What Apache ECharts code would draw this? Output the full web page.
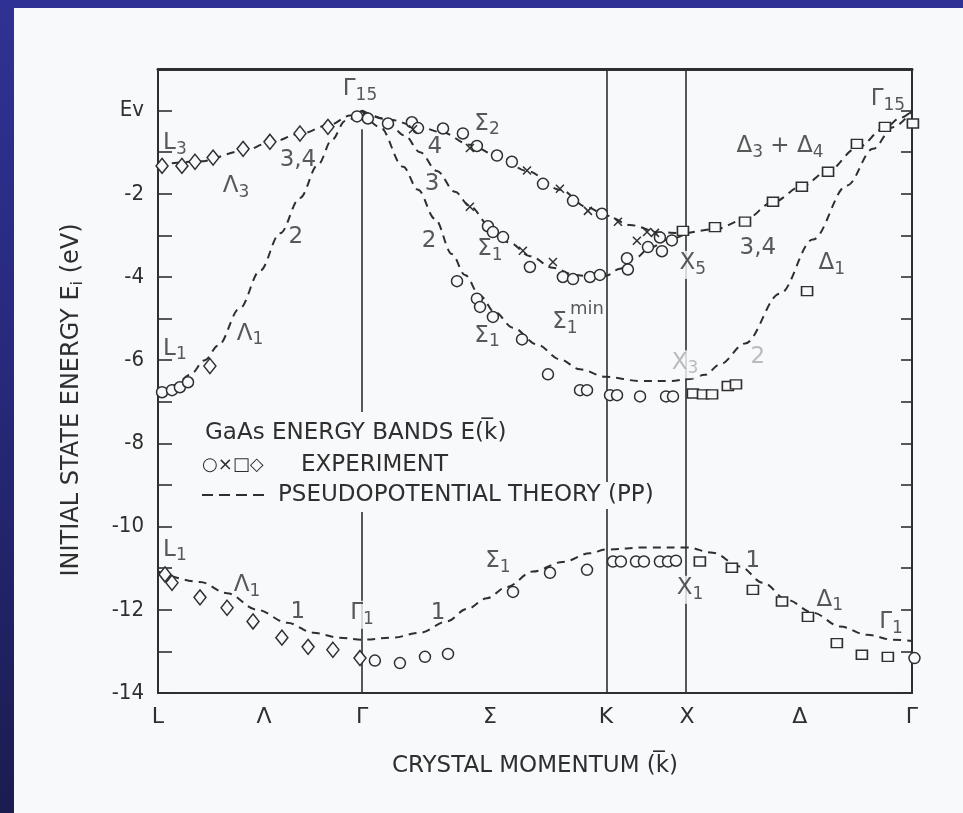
<!DOCTYPE html>
<html>
<head>
<meta charset="utf-8">
<script src="https://cdn.jsdelivr.net/npm/echarts@6/dist/echarts.min.js"></script>
<style>
  html, body { margin: 0; padding: 0; width: 963px; height: 813px; overflow: hidden;
    background: linear-gradient(180deg, #2f3293 0%, #27297c 45%, #1b1c50 100%); }
  #paper { position: absolute; left: 14px; top: 8px; right: 0; bottom: 0; background: #f8f9fa; }
  #chart { position: absolute; left: 0; top: 0; width: 963px; height: 813px; }
</style>
</head>
<body>
<div id="paper"></div>
<div id="chart"></div>
<script>
// ---- symmetry points along the k path (L - Gamma - K - X - Gamma) ----
const kTicks      = [0, 0.47, 0.904, 1.471, 1.985, 2.344, 2.844, 3.341];
const kTickLabels = ['L', 'Λ', 'Γ', 'Σ', 'K', 'X', 'Δ', 'Γ'];
const kGamma = 0.904, kK = 1.985, kX = 2.344, kEnd = 3.341;

// ---- pseudopotential theory bands, [k, E (eV)] ----
const ppLambda3 = [[0,-1.3],[0.186,-1.22],[0.377,-0.97],[0.496,-0.77],[0.629,-0.56],[0.762,-0.34],[0.851,-0.12],[0.904,0]];
const ppLambda1 = [[0,-6.75],[0.075,-6.6],[0.142,-6.35],[0.208,-6.0],[0.266,-5.65],[0.363,-4.75],[0.452,-3.85],
                   [0.541,-2.95],[0.629,-2.1],[0.709,-1.3],[0.771,-0.7],[0.829,-0.25],[0.904,0]];
const ppBand2 = [[0.904,0],[0.984,-0.4],[1.086,-1.35],[1.152,-1.9],[1.227,-2.6],[1.303,-3.45],[1.360,-3.95],
                 [1.427,-4.45],[1.493,-4.85],[1.573,-5.22],[1.679,-5.62],[1.781,-5.98],[1.870,-6.22],[1.985,-6.4],
                 [2.136,-6.5],[2.269,-6.5],[2.357,-6.45],[2.424,-6.35],[2.490,-6.1],[2.601,-5.6],[2.756,-4.4],
                 [2.902,-3.1],[3.053,-1.8],[3.168,-0.92],[3.257,-0.4],[3.341,0]];
const ppBand3 = [[0.904,0],[1.006,-0.2],[1.094,-0.6],[1.161,-1.0],[1.236,-1.45],[1.316,-1.95],[1.382,-2.3],
                 [1.471,-2.78],[1.560,-3.18],[1.648,-3.5],[1.750,-3.78],[1.848,-3.95],[1.936,-4.0],[1.985,-3.97],
                 [2.047,-3.8],[2.113,-3.55],[2.180,-3.3],[2.260,-3.1],[2.344,-2.95]];
const ppBand4 = [[0.904,0],[1.028,-0.22],[1.139,-0.36],[1.258,-0.52],[1.382,-0.82],[1.502,-1.08],[1.635,-1.45],
                 [1.781,-1.9],[1.905,-2.33],[1.985,-2.52],[2.091,-2.75],[2.224,-2.93],[2.344,-2.95]];
const ppDelta34 = [[2.344,-2.95],[2.468,-2.85],[2.601,-2.62],[2.725,-2.2],[2.853,-1.82],[2.969,-1.45],
                   [3.097,-0.9],[3.221,-0.42],[3.288,-0.18],[3.341,0]];
const ppBand1 = [[0,-11.08],[0.186,-11.33],[0.306,-11.6],[0.439,-12.0],[0.572,-12.31],[0.687,-12.55],[0.806,-12.67],
                 [0.904,-12.72],[1.041,-12.67],[1.161,-12.55],[1.280,-12.28],[1.369,-11.98],[1.458,-11.72],
                 [1.546,-11.45],[1.661,-11.08],[1.794,-10.85],[1.914,-10.64],[1.985,-10.55],[2.167,-10.5],
                 [2.344,-10.5],[2.459,-10.63],[2.579,-10.96],[2.681,-11.35],[2.787,-11.76],[2.902,-12.07],
                 [3.022,-12.4],[3.141,-12.6],[3.257,-12.72],[3.341,-12.75]];

// ---- photoemission experiment, [k, E (eV)] ----
const expCircles = [
  [0.018,-6.77],[0.062,-6.72],[0.097,-6.65],[0.133,-6.53],
  [0.882,-0.14],[0.930,-0.19],[1.019,-0.31],[1.125,-0.28],[1.152,-0.42],[1.263,-0.43],[1.351,-0.55],
  [1.413,-0.85],[1.502,-1.08],[1.568,-1.23],[1.706,-1.76],[1.839,-2.17],[1.967,-2.48],[2.224,-3.05],[2.277,-3.12],
  [1.462,-2.78],[1.484,-2.92],[1.529,-3.04],[1.648,-3.76],[1.794,-4.0],[1.839,-4.05],[1.914,-4.0],[1.958,-3.95],
  [2.078,-3.55],[2.082,-3.82],[2.171,-3.28],[2.233,-3.38],
  [1.325,-4.1],[1.413,-4.52],[1.427,-4.72],[1.484,-4.96],[1.613,-5.5],[1.728,-6.34],
  [1.870,-6.72],[1.901,-6.72],[2.003,-6.84],[2.034,-6.84],[2.136,-6.87],[2.251,-6.87],[2.282,-6.87],
  [0.961,-13.22],[1.072,-13.28],[1.183,-13.13],[1.285,-13.06],
  [1.573,-11.57],[1.737,-11.11],[1.901,-11.04],[2.016,-10.84],[2.051,-10.84],[2.118,-10.84],[2.153,-10.84],
  [2.224,-10.84],[2.260,-10.84],[2.295,-10.82],[3.352,-13.16]
];
const expCrosses = [
  [1.130,-0.45],[1.382,-0.9],[1.635,-1.44],[1.781,-1.88],[1.905,-2.41],[2.038,-2.67],[2.167,-2.92],[2.202,-2.94],
  [1.382,-2.31],[1.617,-3.37],[1.750,-3.64],[2.122,-3.13]
];
const expSquares = [
  [2.326,-2.89],[2.468,-2.8],[2.601,-2.67],[2.725,-2.19],[2.853,-1.83],[2.969,-1.47],[3.097,-0.8],[3.221,-0.39],[3.345,-0.31],
  [2.876,-4.34],
  [2.370,-6.8],[2.415,-6.82],[2.455,-6.82],[2.525,-6.62],[2.561,-6.58],
  [2.401,-10.84],[2.543,-10.99],[2.636,-11.52],[2.765,-11.8],[2.880,-12.17],[3.008,-12.8],[3.119,-13.08],[3.234,-13.13]
];
const expDiamonds = [
  [0.018,-1.33],[0.106,-1.33],[0.164,-1.23],[0.244,-1.13],[0.377,-0.92],[0.496,-0.75],[0.629,-0.55],[0.753,-0.39],
  [0.230,-6.14],
  [0.031,-11.15],[0.062,-11.35],[0.186,-11.7],[0.306,-11.95],[0.421,-12.28],[0.549,-12.67],[0.665,-12.89],
  [0.775,-12.96],[0.895,-13.16]
];

// ---- drawing ----
const INK = '#2f2f2f';
const PAPER = '#f8f9fa';
const GREY = '#a9abae';
const FONT = 'DejaVu Sans';
const FONT_C = 'DejaVu Sans Condensed';

const richStyles = {
  m: { fontFamily: FONT, fontSize: 23, color: INK, lineHeight: 26, verticalAlign: 'top' },
  s: { fontFamily: FONT, fontSize: 17, color: INK, lineHeight: 17, padding: [12, 0, 0, 0], verticalAlign: 'bottom' },
  p: { fontFamily: FONT, fontSize: 18, color: INK, lineHeight: 20 },
  gm: { fontFamily: FONT, fontSize: 23, color: GREY, lineHeight: 26, verticalAlign: 'top' },
  gs: { fontFamily: FONT, fontSize: 17, color: GREY, lineHeight: 17, padding: [12, 0, 0, 0], verticalAlign: 'bottom' }
};

// band-symmetry annotations: [k, E, rich text, masks the line behind it]
const notes = [
  [0.895, 0.48, '{m|Γ}{s|15}', true],
  [0.075, -0.82, '{m|L}{s|3}', false],
  [0.346, -1.86, '{m|Λ}{s|3}', false],
  [0.620, -1.23, '{m|3,4}', false],
  [0.611, -3.08, '{m|2}', false],
  [0.408, -5.40, '{m|Λ}{s|1}', false],
  [0.075, -5.76, '{m|L}{s|1}', false],
  [1.227, -0.92, '{m|4}', false],
  [1.214, -1.81, '{m|3}', false],
  [1.201, -3.16, '{m|2}', false],
  [1.458, -0.36, '{m|Σ}{s|2}', false],
  [1.471, -3.37, '{m|Σ}{s|1}', false],
  [1.458, -5.45, '{m|Σ}{s|1}', false],
  [1.803, -5.13, '{m|Σ}{s|1}', false],
  [1.901, -4.77, '{p|min}', true],
  [2.370, -3.71, '{m|X}{s|5}', true],
  [2.658, -3.35, '{m|3,4}', false],
  [2.756, -0.89, '{m|Δ}{s|3}{m| + Δ}{s|4}', false],
  [3.234, 0.24, '{m|Γ}{s|15}', false],
  [2.986, -3.71, '{m|Δ}{s|1}', false],
  [2.335, -6.10, '{gm|X}{gs|3}', true],
  [2.658, -5.95, '{gm|2}', false],
  [0.075, -10.6, '{m|L}{s|1}', false],
  [0.394, -11.45, '{m|Λ}{s|1}', false],
  [0.620, -12.1, '{m|1}', false],
  [0.904, -12.12, '{m|Γ}{s|1}', true],
  [1.241, -12.12, '{m|1}', false],
  [1.506, -10.87, '{m|Σ}{s|1}', false],
  [2.357, -11.52, '{m|X}{s|1}', true],
  [2.636, -10.87, '{m|1}', false],
  [2.977, -11.8, '{m|Δ}{s|1}', false],
  [3.248, -12.34, '{m|Γ}{s|1}', false]
];

function theoryLine(name, data) {
  return {
    name, type: 'line', data, smooth: 0.35, smoothMonotone: 'x', symbol: 'none', z: 3,
    lineStyle: { color: INK, width: 2, type: [8, 6] }, silent: true
  };
}
function expScatter(name, data, symbol, size) {
  return {
    name, type: 'scatter', data, symbol, symbolSize: size, z: 5, clip: false,
    itemStyle: { color: PAPER, borderColor: INK, borderWidth: 1.5, opacity: 1 }
  };
}

const chart = echarts.init(document.getElementById('chart'), null, { renderer: 'canvas' });

const option = {
  animation: false,
  backgroundColor: 'transparent',
  grid: { left: 158, right: 51, top: 69, bottom: 120, containLabel: false, outerBoundsMode: 'none' },
  xAxis: [
    {
      type: 'value', min: 0, max: kEnd, position: 'bottom',
      axisLine: { show: true, onZero: false, lineStyle: { color: INK, width: 2 } },
      axisTick: { show: false }, splitLine: { show: false },
      axisLabel: {
        customValues: kTicks, showMinLabel: true, showMaxLabel: true, margin: 13,
        fontFamily: FONT, fontSize: 22, color: INK,
        formatter: v => { const i = kTicks.findIndex(t => Math.abs(t - v) < 1e-6); return i >= 0 ? kTickLabels[i] : ''; }
      },
      name: 'CRYSTAL MOMENTUM (k\u0305)', nameLocation: 'middle', nameGap: 62,
      nameTextStyle: { fontFamily: FONT, fontSize: 23, color: INK }
    },
    {
      type: 'value', min: 0, max: kEnd, position: 'top',
      axisLine: { show: true, onZero: false, lineStyle: { color: INK, width: 3 } },
      axisTick: { show: false }, axisLabel: { show: false }, splitLine: { show: false }
    }
  ],
  yAxis: [
    {
      type: 'value', min: -14, max: 1, interval: 1, position: 'left',
      axisLine: { show: true, onZero: false, lineStyle: { color: INK, width: 2 } },
      axisTick: { show: true, inside: true, length: 14, lineStyle: { color: INK, width: 1.6 } },
      splitLine: { show: false },
      axisLabel: {
        margin: 14, fontFamily: FONT_C, fontSize: 22, color: INK,
        formatter: v => v === 0 ? 'Ev' : (v < 0 && v % 2 === 0 ? String(v) : '')
      }
    },
    {
      type: 'value', min: -14, max: 1, interval: 1, position: 'right',
      axisLine: { show: true, onZero: false, lineStyle: { color: INK, width: 2 } },
      axisTick: { show: true, inside: true, length: 11, lineStyle: { color: INK, width: 1.6 } },
      axisLabel: { show: false }, splitLine: { show: false }
    }
  ],
  series: [
    {
      name: 'symmetry lines', type: 'line', data: [], z: 1,
      markLine: {
        silent: true, symbol: 'none', animation: false,
        label: { show: false },
        lineStyle: { color: INK, width: 1.6, type: 'solid' },
        data: [
          [{ coord: [kGamma, -0.45] }, { coord: [kGamma, -14] }],
          { xAxis: kK },
          { xAxis: kX }
        ]
      }
    },
    theoryLine('Λ3', ppLambda3),
    theoryLine('Λ1', ppLambda1),
    theoryLine('band 2', ppBand2),
    theoryLine('band 3', ppBand3),
    theoryLine('band 4', ppBand4),
    theoryLine('Δ3+Δ4', ppDelta34),
    theoryLine('band 1', ppBand1),
    expScatter('circles', expCircles, 'circle', 11),
    expScatter('crosses', expCrosses, 'path://M0 0L10 10M10 0L0 10', 8),
    expScatter('squares', expSquares, 'rect', [11, 9]),
    expScatter('diamonds', expDiamonds, 'diamond', [12, 15]),
    {
      name: 'labels', type: 'scatter', symbolSize: 0, z: 6, clip: false, silent: true,
      data: notes.map(n => ({
        value: [n[0], n[1]],
        label: {
          show: true, position: 'inside', formatter: n[2], rich: richStyles,
          backgroundColor: n[3] ? PAPER : 'transparent', padding: n[3] ? [1, 2] : 0
        }
      }))
    }
  ],
  graphic: [
    { type: 'text', x: 72, y: 400, rotation: Math.PI / 2, z: 10,
      style: {
        text: 'INITIAL STATE ENERGY E{s|i} (eV)', font: '24px "DejaVu Sans"', fill: INK,
        align: 'center', verticalAlign: 'middle',
        rich: { s: { fontFamily: FONT, fontSize: 16, fill: INK, padding: [12, 0, 0, 0], verticalAlign: 'bottom' } }
      } },
    // clear block behind the key so the symmetry line breaks around it
    { type: 'rect', z: 9, shape: { x: 198, y: 412, width: 342, height: 100 }, style: { fill: PAPER } },
    { type: 'text', left: 202, top: 420, z: 10,
      style: { text: 'GaAs ENERGY BANDS E(k\u0305)', font: '23px "DejaVu Sans"', fill: INK, backgroundColor: PAPER, padding: [2, 3] } },
    { type: 'text', left: 200, top: 454, z: 10,
      style: { text: '○×□◇', font: '18px "DejaVu Sans"', fill: INK, backgroundColor: PAPER, padding: [2, 2] } },
    { type: 'text', left: 298, top: 452, z: 10,
      style: { text: 'EXPERIMENT', font: '23px "DejaVu Sans"', fill: INK, backgroundColor: PAPER, padding: [2, 3] } },
    { type: 'line', z: 10, shape: { x1: 202, y1: 495, x2: 268, y2: 495 },
      style: { stroke: INK, lineWidth: 2, lineDash: [11, 6] } },
    { type: 'text', left: 275, top: 482, z: 10,
      style: { text: 'PSEUDOPOTENTIAL THEORY (PP)', font: '23px "DejaVu Sans"', fill: INK, backgroundColor: PAPER, padding: [2, 3] } }
  ]
};

chart.setOption(option);
</script>
</body>
</html>
